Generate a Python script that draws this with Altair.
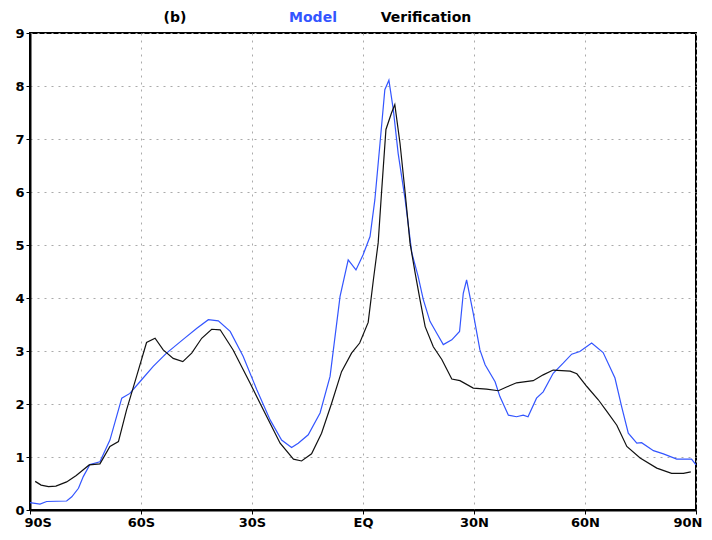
import altair as alt
import pandas as pd

# Model (blue)
model_lat = [-90, -87.3, -85.5, -80.1, -78.7, -76.9, -75.6, -73.8, -71.1, -68.4, -65.2, -63, -60.3,
             -56.7, -53.1, -48.6, -44.9, -41.8, -39.1, -35.9, -32.4, -28.7, -25.1, -22.0, -19.3,
             -17.5, -14.8, -11.6, -8.9, -6.2, -4.0, -1.9, 0.0, 1.9, 3.2, 4.6, 5.9, 7.0, 8.2, 9.5,
             11.4, 13.2, 14.9, 16.3, 18.1, 19.9, 21.7, 24.0, 26.1, 27.1, 28.0, 29.8, 31.6, 33.0,
             35.7, 37.0, 39.3, 41.5, 43.3, 44.6, 46.9, 48.7, 51.4, 54.1, 56.4, 58.6, 61.8, 64.9,
             68.1, 69.9, 71.7, 74, 75.3, 78.5, 81.2, 84.8, 88.8, 90]
model_val = [0.14, 0.11, 0.16, 0.17, 0.25, 0.41, 0.63, 0.86, 0.91, 1.32, 2.11, 2.20, 2.42,
             2.71, 2.96, 3.22, 3.43, 3.59, 3.57, 3.37, 2.90, 2.27, 1.70, 1.32, 1.18,
             1.26, 1.42, 1.83, 2.52, 4.03, 4.72, 4.53, 4.81, 5.16, 5.85, 6.92, 7.93, 8.11, 7.55, 6.73,
             5.85, 4.85, 4.41, 3.97, 3.56, 3.34, 3.12, 3.21, 3.37, 4.09, 4.34, 3.71, 3.02, 2.74,
             2.42, 2.14, 1.79, 1.76, 1.79, 1.76, 2.11, 2.23, 2.58, 2.77, 2.94, 2.99, 3.15, 2.97,
             2.49, 1.95, 1.45, 1.26, 1.27, 1.12, 1.06, 0.96, 0.96, 0.85]

# Verification (black)
verif_lat = [-88.6, -87, -85, -83, -80.1, -77.5, -75.6, -74, -71.1, -68.4, -66.1, -63.9, -61.2,
             -58.5, -56.2, -54, -51.3, -48.7, -46.3, -43.6, -40.9, -38.6, -35.1, -30.5, -26.0,
             -22.4, -18.8, -16.6, -13.9, -11.2, -8.5, -5.8, -3.1, -0.9, 1.4, 2.8, 4.1, 5.0, 6.2,
             7.7, 8.6, 10.0, 11.4, 12.7, 14.1, 15.4, 16.8, 19.0, 21.3, 24.0, 26.2, 29.8, 33.4,
             36.6, 38.8, 41.5, 46.0, 48.7, 51.4, 56.0, 57.8, 60.5, 63.6, 65.9, 68.6, 71.3, 74.9,
             79.4, 83.4, 86.6, 88.6]
verif_val = [0.54, 0.47, 0.44, 0.45, 0.53, 0.65, 0.76, 0.85, 0.87, 1.2, 1.29, 1.89, 2.52,
             3.16, 3.24, 3.02, 2.86, 2.80, 2.96, 3.24, 3.41, 3.40, 3.02, 2.39, 1.76,
             1.26, 0.96, 0.925, 1.06, 1.45, 2.01, 2.61, 2.96, 3.15, 3.54, 4.34, 5.04, 5.98, 7.18,
             7.49, 7.65, 6.92, 5.98, 5.04, 4.47, 3.97, 3.46, 3.08, 2.84, 2.47, 2.44, 2.30, 2.28,
             2.25, 2.32, 2.40, 2.44, 2.55, 2.64, 2.62, 2.57, 2.33, 2.08, 1.86, 1.60, 1.20, 0.98,
             0.79, 0.69, 0.69, 0.72]

x_ticks = [-90, -60, -30, 0, 30, 60, 90]
y_ticks = [0, 1, 2, 3, 4, 5, 6, 7, 8, 9]

titles = ["(b)", "Model", "Verification"]
title_colors = ["#000000", "#3355ff", "#000000"]

df = pd.concat([
    pd.DataFrame({"lat": model_lat, "val": model_val, "series": "Model"}),
    pd.DataFrame({"lat": verif_lat, "val": verif_val, "series": "Verification"}),
])

W, H = 666, 477

x_enc = alt.X("lat:Q", scale=alt.Scale(domain=[-90, 90], nice=False, zero=False),
              axis=alt.Axis(values=x_ticks, title=None, labelFlush=True, labelFlushOffset=6,
                            labelExpr="datum.value == 0 ? 'EQ' : (datum.value < 0 ? abs(datum.value) + 'S' : datum.value + 'N')"))
y_enc = alt.Y("val:Q", scale=alt.Scale(domain=[0, 9], nice=False),
              axis=alt.Axis(values=y_ticks, title=None))

lines = alt.Chart(df).mark_line(strokeWidth=1.2).encode(
    x=x_enc,
    y=y_enc,
    color=alt.Color("series:N",
                    scale=alt.Scale(domain=["Model", "Verification"], range=["#3355ff", "#111111"]),
                    legend=None),
)

tdf = pd.DataFrame({"t": titles, "c": title_colors, "px": [145, 283, 396]})
title_layer = alt.Chart(tdf).mark_text(fontSize=14, fontWeight="bold", font="DejaVu Sans",
                                       baseline="middle", align="center").encode(
    text="t:N",
    x=alt.X("px:Q", scale=None),
    y=alt.value(-15),
    color=alt.Color("c:N", scale=None),
)

chart = alt.layer(lines, title_layer).properties(
    width=W, height=H,
    autosize=alt.AutoSizeParams(type="none"),
    padding={"left": 22, "top": 25, "right": 8, "bottom": 20},
).configure_view(
    stroke="black", strokeWidth=2
).configure_axis(
    domainColor="black", domainWidth=2,
    gridColor="#aaaaaa", gridDash=[2, 5], gridWidth=1,
    tickColor="black", tickSize=4, tickWidth=1,
    labelFont="DejaVu Sans", labelFontWeight="bold", labelFontSize=13,
    labelColor="black", labelPadding=2,
)

chart.save("out.html", embed_options={"renderer": "svg", "actions": False})
